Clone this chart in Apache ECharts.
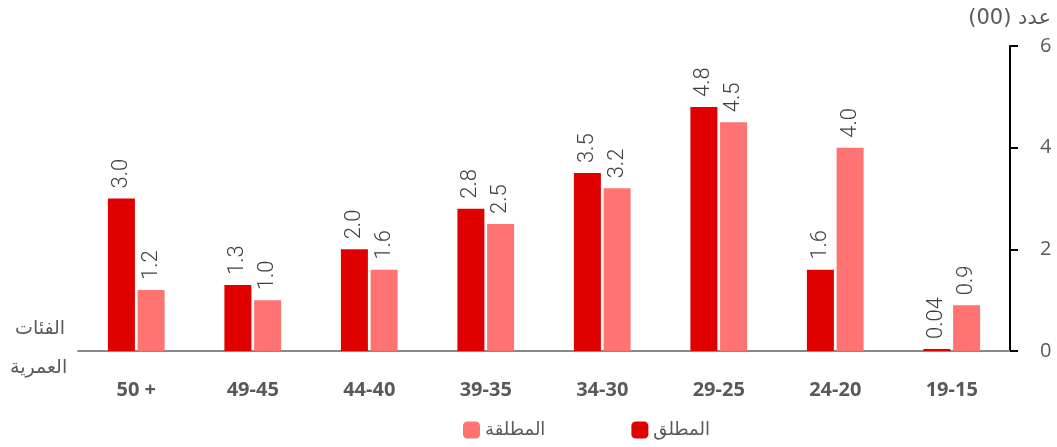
<!DOCTYPE html>
<html><head><meta charset="utf-8">
<script src="https://cdn.jsdelivr.net/npm/echarts@6/dist/echarts.min.js"></script>
<style>html,body{margin:0;padding:0;background:#fff}#c{width:1057px;height:447px}</style>
</head><body><div id="c"></div>
<script>
const categories = ['50 +', '49-45', '44-40', '39-35', '34-30', '29-25', '24-20', '19-15'];
const absolute = [3.0, 1.3, 2.0, 2.8, 3.5, 4.8, 1.6, 0.04];   // المطلق
const divorcee = [1.2, 1.0, 1.6, 2.5, 3.2, 4.5, 4.0, 0.9];    // المطلقة
const yTicks = [0, 2, 4, 6];
const fmt = p => (p.value < 0.1 ? p.value.toFixed(2) : p.value.toFixed(1));
const chart = echarts.init(document.getElementById('c'));
const labelStyle = {show: true, position: 'top', rotate: 90, align: 'left', verticalAlign: 'middle', distance: 10,
  color: '#404040', fontSize: 22, fontWeight: 300, fontFamily: 'Roboto', formatter: fmt};
chart.setOption({
  animation: false,
  grid: {left: 78, right: 47, top: 46, bottom: 96},
  legend: {bottom: 3, left: 458, itemWidth: 17, itemHeight: 17, itemGap: 86,
    data: ['المطلقة', 'المطلق'],
    textStyle: {color: '#595959', fontSize: 18, fontFamily: 'DejaVu Sans'}},
  xAxis: {type: 'category', data: categories,
    axisLine: {lineStyle: {color: '#888', width: 2}},
    axisTick: {alignWithLabel: true, length: 7, lineStyle: {color: '#888', width: 2}},
    axisLabel: {margin: 29, color: '#595959', fontSize: 20, fontWeight: 'bold', fontFamily: 'Noto Sans'}},
  yAxis: {type: 'value', position: 'right', min: 0, max: 6, interval: 2,
    axisLine: {show: true, lineStyle: {color: '#000', width: 2}},
    axisTick: {show: true, length: 8, lineStyle: {color: '#000', width: 2}},
    splitLine: {show: false},
    axisLabel: {margin: 30, color: '#595959', fontSize: 20, fontFamily: 'Open Sans',
      formatter: v => yTicks.includes(v) ? String(v) : ''}},
  graphic: [
    {type: 'text', right: 6, top: 8, style: {text: 'عدد (00)', fill: '#595959', fontSize: 21, fontFamily: 'DejaVu Sans'}},
    {type: 'text', left: 15, top: 320, style: {text: 'الفئات', fill: '#595959', fontSize: 19, fontFamily: 'DejaVu Sans'}},
    {type: 'text', left: 10, top: 359, style: {text: 'العمرية', fill: '#595959', fontSize: 19, fontFamily: 'DejaVu Sans'}}
  ],
  series: [
    {name: 'المطلق', type: 'bar', data: absolute, barWidth: 27, barGap: '10%',
      itemStyle: {color: '#e00000'}, label: labelStyle},
    {name: 'المطلقة', type: 'bar', data: divorcee, barWidth: 27,
      itemStyle: {color: '#ff7373'}, label: labelStyle}
  ]
});
</script></body></html>
